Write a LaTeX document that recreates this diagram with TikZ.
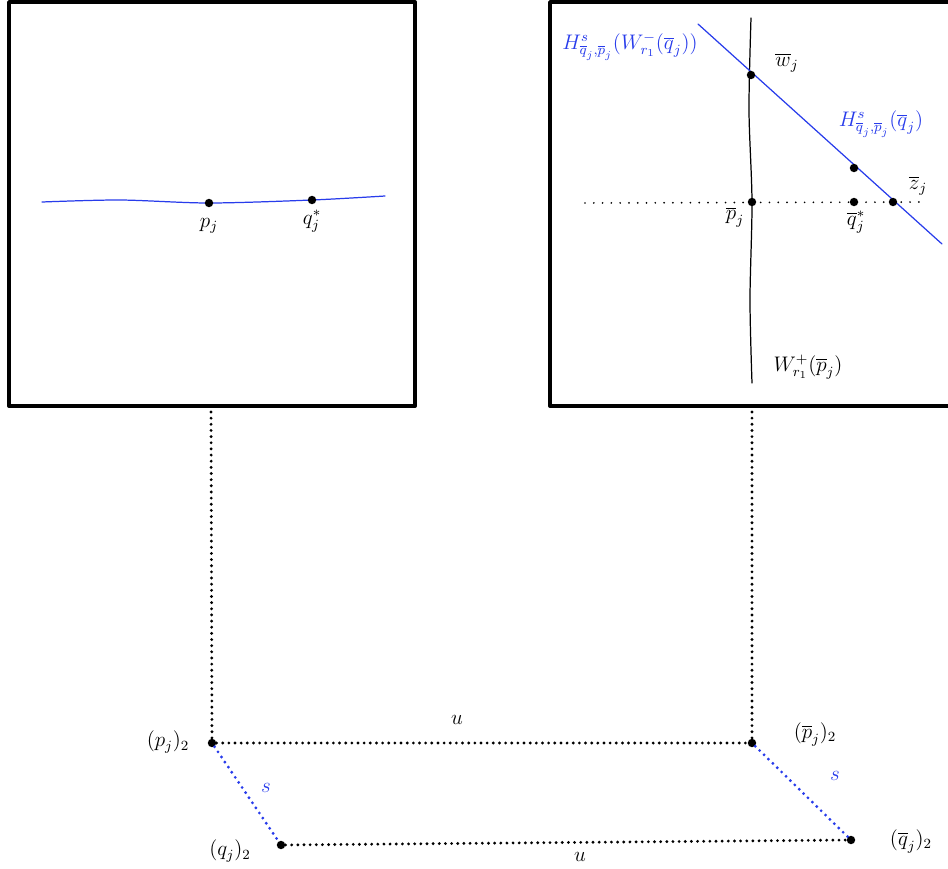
\documentclass[tikz,border=0pt]{standalone}
\usetikzlibrary{positioning}
\begin{document}
\begin{tikzpicture}[x=0.02cm, y=-0.02cm, line cap=round, line join=round]
  \definecolor{hblue}{RGB}{40,60,235}
  \tikzset{
    panel/.style={line width=2.2pt},
    pt/.style={circle, fill, inner sep=0pt, minimum size=4.8pt},
    thinline/.style={line width=0.7pt},
    uline/.style={line width=1.8pt, dash pattern=on 0pt off 3.5pt},
    sline/.style={uline, hblue},
    lab/.style={inner sep=1pt, font=\large}
  }
  \useasboundingbox (0,0) rectangle (948,869);
  % panels
  \draw[panel] (9,2) rectangle (415,406);
  \draw[panel] (948,2) -- (550,2) -- (550,406) -- (948,406);
  % left panel
  \draw[thinline, hblue] plot[smooth] coordinates {(42,202) (120,200) (209,203) (312,200) (385,196)};
  \node[pt] (p) at (209,203) {};
  \node[pt] (qs) at (312,200) {};
  \node[lab, below=5pt of p] {$p_j$};
  \node[lab, below=2pt of qs] {$q_j^*$};
  % right panel
  \draw[thinline] plot[smooth] coordinates {(751,18) (749,110) (752,202) (750,300) (752,383)};
  \coordinate (hA) at (698,24);
  \coordinate (hB) at (942,244);
  \draw[thinline, hblue] (hA) -- (hB);
  \draw[line width=1.1pt, dash pattern=on 0pt off 5pt] (585,203) -- (920,202);
  \node[pt] (pb) at (752,202) {};
  \node[pt] (qbs) at (854,202) {};
  \node[pt] (zb) at (893,202) {};
  \node[pt] (wb) at (751,75) {};
  \node[pt] (hq) at (854,168) {};
  \node[lab] at (787,63) {$\overline{w}_j$};
  \node[lab] at (735,217) {$\overline{p}_j$};
  \node[lab] at (856,222) {$\overline{q}_j^*$};
  \node[lab] at (918,186) {$\overline{z}_j$};
  \node[lab, hblue] at (630,47) {$H^s_{\overline{q}_j,\overline{p}_j}(W^-_{r_1}(\overline{q}_j))$};
  \node[lab, hblue] at (881,124) {$H^s_{\overline{q}_j,\overline{p}_j}(\overline{q}_j)$};
  \node[lab] at (808,367) {$W^+_{r_1}(\overline{p}_j)$};
  % lower diagram
  \coordinate (lt) at (211,412);
  \coordinate (rt) at (752,412);
  \node[pt] (p2) at (212,743) {};
  \node[pt] (pb2) at (752,743) {};
  \node[pt] (q2) at (281,845) {};
  \node[pt] (qb2) at (851,840) {};
  \draw[uline] (lt) -- (p2);
  \draw[uline] (rt) -- (pb2);
  \draw[uline] (p2) -- (pb2);
  \draw[uline] (q2) -- (qb2);
  \draw[sline] (p2) -- (q2);
  \draw[sline] (pb2) -- (qb2);
  \node[lab] at (168,742) {$(p_j)_2$};
  \node[lab] at (815,734) {$(\overline{p}_j)_2$};
  \node[lab] at (230,851) {$(q_j)_2$};
  \node[lab] at (911,841) {$(\overline{q}_j)_2$};
  \node[lab] at (457,720) {$u$};
  \node[lab] at (580,857) {$u$};
  \node[lab, hblue] at (266,788) {$s$};
  \node[lab, hblue] at (835,776) {$s$};
\end{tikzpicture}
\end{document}
